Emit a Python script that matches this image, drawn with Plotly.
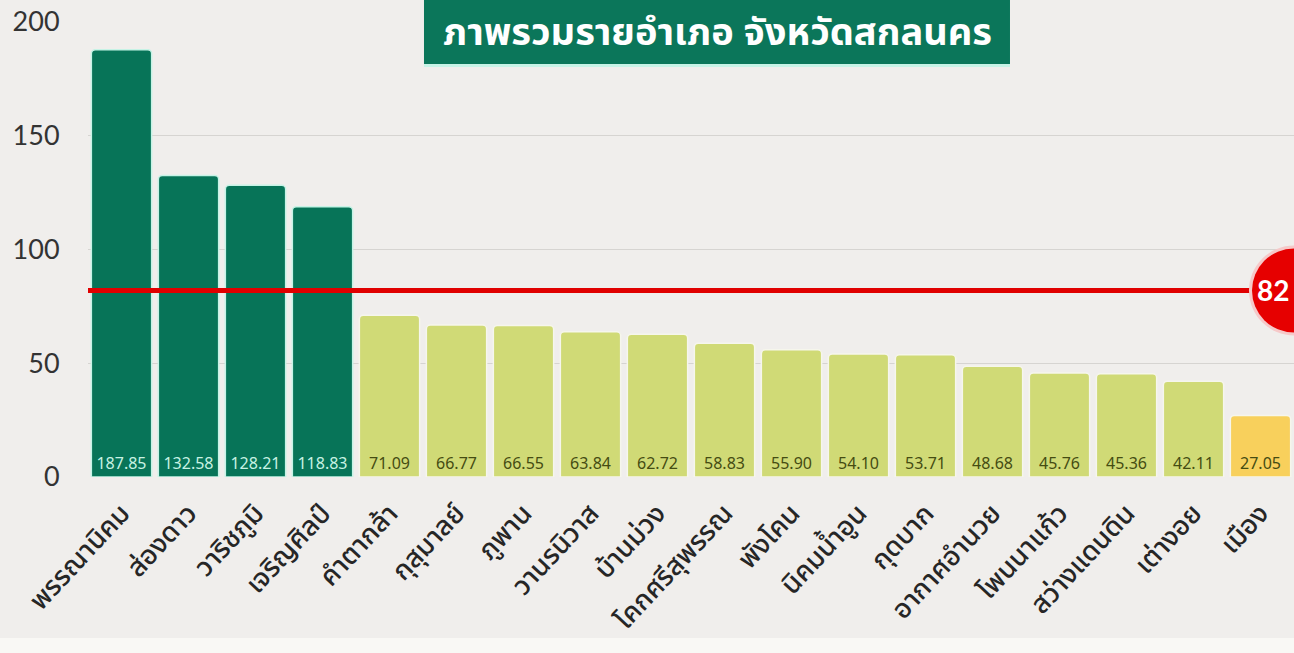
import plotly.graph_objects as go

districts = ["พรรณานิคม", "ส่องดาว", "วาริชภูมิ", "เจริญศิลป์", "คำตากล้า", "กุสุมาลย์",
             "ภูพาน", "วานรนิวาส", "บ้านม่วง", "โคกศรีสุพรรณ", "พังโคน", "นิคมน้ำอูน",
             "กุดบาก", "อากาศอำนวย", "โพนนาแก้ว", "สว่างแดนดิน", "เต่างอย", "เมือง"]
values = [187.85, 132.58, 128.21, 118.83, 71.09, 66.77, 66.55, 63.84, 62.72,
          58.83, 55.90, 54.10, 53.71, 48.68, 45.76, 45.36, 42.11, 27.05]
value_labels = ["187.85", "132.58", "128.21", "118.83", "71.09", "66.77", "66.55", "63.84", "62.72",
                "58.83", "55.90", "54.10", "53.71", "48.68", "45.76", "45.36", "42.11", "27.05"]
threshold = 82
threshold_label = "82"
title_text = "ภาพรวมรายอำเภอ จังหวัดสกลนคร"
y_ticks = [0, 50, 100, 150, 200]

DARK = "#077458"
LIGHT = "#d0da76"
LOW = "#f8d05c"
BG = "#f0eeec"


def bar_color(v):
    if v >= threshold:
        return DARK
    if v >= 30:
        return LIGHT
    return LOW


colors = [bar_color(v) for v in values]
text_colors = ["#c8f2e3" if v >= threshold else "#454c12" for v in values]
line_colors = ["#c6f3e6" if v >= threshold else "#f6f6ec" for v in values]

THAI = "Noto Sans Thai, Noto Sans, Sarabun, sans-serif"

fig = go.Figure(go.Bar(
    x=districts,
    y=values,
    text=value_labels,
    textposition="inside",
    insidetextanchor="start",
    textangle=0,
    textfont=dict(size=16, color=text_colors, family="Noto Sans, sans-serif"),
    marker=dict(color=colors, line=dict(color=line_colors, width=1.5), cornerradius=4),
    hoverinfo="skip",
))

fig.update_layout(
    width=1294, height=653,
    paper_bgcolor=BG, plot_bgcolor=BG,
    margin=dict(l=88, r=0, t=22, b=176),
    bargap=0.1,
    showlegend=False,
    uniformtext=dict(mode="show", minsize=10),
    font=dict(family=THAI, color="#2a2a2a"),
)

fig.update_yaxes(
    range=[0, 200], tickvals=y_ticks, showgrid=True, gridcolor="#d6d4d1", gridwidth=1,
    zeroline=False, ticks="outside", ticklen=22, tickcolor="rgba(0,0,0,0)",
    tickfont=dict(size=27, color="#333333", family="Lato, Noto Sans, sans-serif"),
    showline=False,
)
fig.update_xaxes(
    tickangle=-47, tickfont=dict(size=27, color="#262626", family=THAI, weight=500),
    ticklabelstandoff=14,
    showgrid=False, showline=False, ticks="",
)

# lighter strip at the bottom of the card
fig.add_shape(type="rect", xref="paper", yref="paper", x0=-0.1, x1=1.01, y0=-0.40, y1=-0.354,
              fillcolor="#f9f8f5", line=dict(width=0), layer="below")

# threshold line
fig.add_shape(type="line", xref="paper", x0=0, x1=1, yref="y", y0=threshold, y1=threshold,
              line=dict(color="#e00000", width=5), layer="above")
# threshold badge (pink halo + red circle)
fig.add_shape(type="circle", xref="paper", xanchor=1, xsizemode="pixel", x0=-45, x1=45,
              yref="y", yanchor=threshold, ysizemode="pixel", y0=-45, y1=45,
              fillcolor="#f6c9c9", line=dict(width=0), layer="above")
fig.add_shape(type="circle", xref="paper", xanchor=1, xsizemode="pixel", x0=-42, x1=42,
              yref="y", yanchor=threshold, ysizemode="pixel", y0=-42, y1=42,
              fillcolor="#e60000", line=dict(width=0), layer="above")
fig.add_annotation(xref="paper", x=1, xshift=-3, yref="y", y=threshold, text=threshold_label,
                   showarrow=False, xanchor="right", yanchor="middle",
                   font=dict(size=28, color="white", family="Lato, Noto Sans, sans-serif", weight=700))

# title box
fig.add_shape(type="rect", xref="paper", yref="paper", x0=0.2786, x1=0.7645, y0=0.9011, y1=1.06,
              fillcolor="#c6f3e6", line=dict(width=0), layer="above")
fig.add_shape(type="rect", xref="paper", yref="paper", x0=0.2786, x1=0.7645, y0=0.9077, y1=1.06,
              fillcolor="#0b765a", line=dict(width=0), layer="above")
fig.add_annotation(xref="paper", yref="paper", x=0.5216, y=0.975, text="<b>" + title_text + "</b>",
                   showarrow=False, xanchor="center", yanchor="middle",
                   font=dict(size=38, color="white", family=THAI))

fig.write_html("out.html", config={"displayModeBar": False},
               post_script="document.body.style.margin='0';document.body.style.padding='0';")
